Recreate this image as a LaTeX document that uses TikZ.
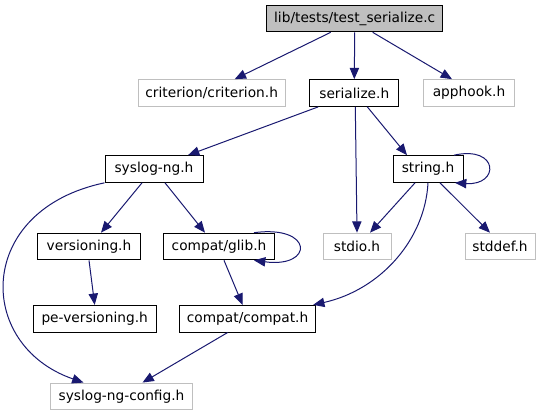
\documentclass[tikz,border=0pt]{standalone}
\usepackage{fontspec}
\setmainfont{DejaVu Sans}
\usepackage{tikz}
\usetikzlibrary{
	arrows.meta,
	positioning,
	calc
}
\definecolor{edgeblue}{RGB}{25,25,112}
\definecolor{extgray}{RGB}{191,191,191}

\begin{document}
\begin{tikzpicture}[
				x=0.75pt, y=-0.75pt,
				file/.style={
					rectangle, draw=black, line width=0.75pt,
					minimum height=20pt, inner sep=0pt,
					align=center, fill=white, font=\fontsize{10.3}{12}\selectfont
				},
				mainfile/.style={
					file, fill=extgray
				},
				extfile/.style={
					file, draw=extgray
				},
				arrow/.style={-{Triangle[length=8.5pt,width=7pt]}, edgeblue, line width=0.75pt},
				]
				\useasboundingbox (0,0) rectangle (545,411);
				
				\node[mainfile, minimum width=132pt] (test) at (354.7,18.5) {lib/tests/test\_serialize.c};
				
				%first row
				\node[extfile, minimum width=110pt] (criterion) at (211.7,93) {criterion/criterion.h};
				\node[file, minimum width=67pt] (serialize) at (354.3,93) {serialize.h};
				\node[extfile, minimum width=68.8pt] (apphook) at (469,93) {apphook.h};
				\draw[arrow] ($(test.south)+(-24,0)$) -- ($(criterion.north)+(23,0)$);
				\draw[arrow] (test.south) -- (serialize.north);
				\draw[arrow] ($(test.south)+(18,0)$) -- ($(apphook.north)+(-17,0)$);
				
				%2. row
				\node[file, minimum width=73.5pt] (syslog) at (154,169) {syslog-ng.h};
				\node[file, minimum width=52.5pt] (string) at (428,169) {string.h};
				\draw[arrow] ($(serialize.south)+(-36,0)$) -- ($(syslog.north)+(34,0)$);
				\draw[arrow] ($(serialize.south)+(13,0)$) -- ($(string.north)+(-21,0)$);
				\draw[arrow] ($(string.north)+(26,0)$) .. controls +(45,-10) and +(45,3) .. ($(string.south)+(27,0)$);
				
				%3. row
				\node[file, minimum width=77.5pt] (versioning) at (89,246.5) {versioning.h};
				\node[file, minimum width=83pt] (glib) at (219,246.5) {compat/glib.h};
				\node[extfile, minimum width=51pt] (stdio) at (357,246.5) {stdio.h};
				\node[extfile, minimum width=52.5pt] (stddef) at (500,246.5) {stddef.h};
				\draw[arrow] ($(syslog.south)+(-12,0)$) -- ($(versioning.north)+(12,0)$);
				\draw[arrow] ($(syslog.south)+(11,0)$) -- ($(glib.north)+(-14,0)$);
				\draw[arrow] ($(serialize.south)+(1,0)$) -- (stdio.north);
				\draw[arrow] ($(string.south)+(-13,0)$) -- ($(stdio.north)+(13,0)$);
				\draw[arrow] ($(string.south)+(12,0)$) -- ($(stddef.north)+(-10,0)$);
				\draw[arrow] ($(glib.north)+(35,0)$) .. controls +(60,-8) and +(60,8) .. ($(glib.south)+(35,0)$);
				
				%4. row
				\node[file, minimum width=92.5pt] (peversioning) at (94.7,318.7) {pe-versioning.h};
				\node[file, minimum width=102pt] (compat) at (247.6,318.7) {compat/compat.h};
				\draw[arrow] (versioning.south) -- (peversioning.north);
				\draw[arrow] ($(glib.south)+(5,0)$) -- ($(compat.north)+(-5,0)$);
				\draw[arrow] (string.south) .. controls (425,240) and (380,290) .. ($(compat.north east)+(-3,0)$);
				
				%5. row
				\node[extfile, minimum width=106pt] (config) at (121.5,396.4) {syslog-ng-config.h};
				\draw[arrow] (syslog.south west) .. controls (-25,210) and (-25,345) .. ($(config.north)+(-38,0)$);
				\draw[arrow] ($(compat.south)+(-20,0)$) -- ($(config.north)+(21,0)$);
			\end{tikzpicture}
\end{document}
